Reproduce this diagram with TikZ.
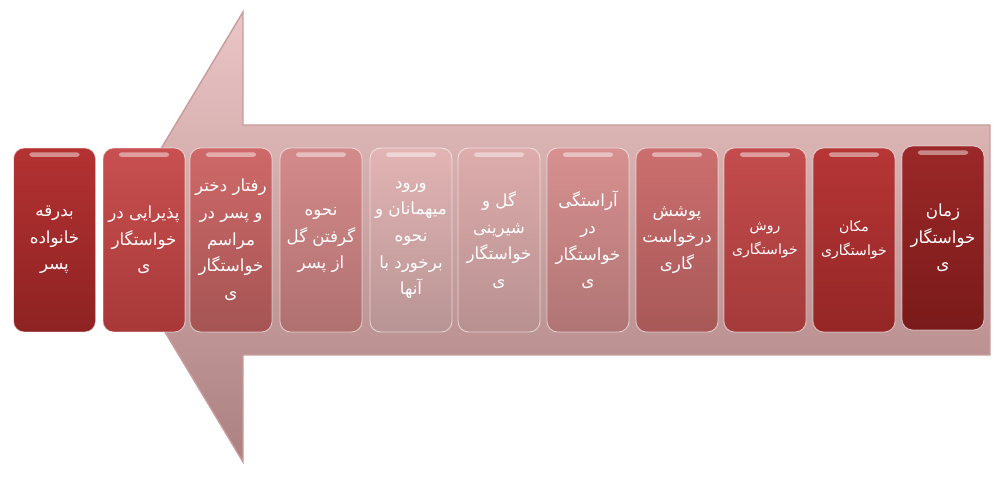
\documentclass[tikz,border=0pt]{standalone}
\usepackage{fontspec}
\newfontfamily\arabicfont[Script=Arabic]{DejaVu Sans}
\TeXXeTstate=1
\newcommand{\rl}[1]{\beginR #1\endR}
\usetikzlibrary{positioning}

\definecolor{arrowtop}{HTML}{EBC6C6}
\definecolor{arrowbot}{HTML}{AC8080}
\definecolor{arrowedge}{HTML}{C89C9C}
\definecolor{c1t}{HTML}{B43232}\definecolor{c1b}{HTML}{8E2222}
\definecolor{c2t}{HTML}{C85050}\definecolor{c2b}{HTML}{A83838}
\definecolor{c3t}{HTML}{CF6868}\definecolor{c3b}{HTML}{A55454}
\definecolor{c4t}{HTML}{D48A8A}\definecolor{c4b}{HTML}{B07070}
\definecolor{c5t}{HTML}{E3B4B4}\definecolor{c5b}{HTML}{B89494}
\definecolor{c6t}{HTML}{DEACAC}\definecolor{c6b}{HTML}{B89090}
\definecolor{c7t}{HTML}{D89090}\definecolor{c7b}{HTML}{B07474}
\definecolor{c8t}{HTML}{CC6E6E}\definecolor{c8b}{HTML}{A85858}
\definecolor{c9t}{HTML}{C44C4C}\definecolor{c9b}{HTML}{A53A3A}
\definecolor{c10t}{HTML}{B73636}\definecolor{c10b}{HTML}{952626}
\definecolor{c11t}{HTML}{9C2828}\definecolor{c11b}{HTML}{7A1A1A}

\begin{document}
\begin{tikzpicture}[x=0.02cm,y=-0.02cm]
  %----- styles
  \tikzset{
    stepbox/.style ={rounded corners=6pt,minimum width=1.64cm,minimum height=3.68cm,
                     inner sep=1pt,align=center,text=white,draw=white,draw opacity=0.6,line width=0.5pt,
                     font=\arabicfont\fontsize{9.5}{15.2}\selectfont,
                     path picture={\fill[white,opacity=0.45,rounded corners=1.5pt]
                       ([xshift=9pt,yshift=-2.5pt]path picture bounding box.north west) rectangle
                       ([xshift=-9pt,yshift=-5pt]path picture bounding box.north east);}},
    smalltxt/.style={font=\arabicfont\fontsize{8}{13.5}\selectfont},
    bigarrow/.style={top color=arrowtop,bottom color=arrowbot,draw=arrowedge,line width=0.8pt}
  }
  \useasboundingbox (0,0) rectangle (1001,479);

  %----- the big arrow pointing left
  \path[bigarrow] (990,125) -- (243,125) -- (243,12) -- (108,237)
                  -- (243,462) -- (243,355) -- (990,355) -- cycle;

  %----- steps, right to left
  \node[stepbox,top color=c1t,bottom color=c1b] (badraqe) at (54.5,240)
    {\rl{بدرقه}\\\rl{خانواده}\\\rl{پسر}};
  \node[stepbox,top color=c2t,bottom color=c2b] (pazirayi) at (144,240)
    {\rl{پذیرایی در}\\\rl{خواستگار}\\\rl{ی}};
  \node[stepbox,top color=c3t,bottom color=c3b] (raftar) at (231,240)
    {\rl{رفتار دختر}\\\rl{و پسر در}\\\rl{مراسم}\\\rl{خواستگار}\\\rl{ی}};
  \node[stepbox,top color=c4t,bottom color=c4b] (gol) at (321,240)
    {\rl{نحوه}\\\rl{گرفتن گل}\\\rl{از پسر}};
  \node[stepbox,top color=c5t,bottom color=c5b] (vorud) at (411,240)
    {\rl{ورود}\\\rl{میهمانان و}\\\rl{نحوه}\\\rl{برخورد با}\\\rl{آنها}};
  \node[stepbox,top color=c6t,bottom color=c6b] (shirini) at (499,240)
    {\rl{گل و}\\\rl{شیرینی}\\\rl{خواستگار}\\\rl{ی}};
  \node[stepbox,top color=c7t,bottom color=c7b] (arastegi) at (588,240)
    {\rl{آراستگی}\\\rl{در}\\\rl{خواستگار}\\\rl{ی}};
  \node[stepbox,top color=c8t,bottom color=c8b] (pushesh) at (677,240)
    {\rl{پوشش}\\\rl{درخواست}\\\rl{گاری}};
  \node[stepbox,smalltxt,top color=c9t,bottom color=c9b] (ravesh) at (765,240)
    {\rl{روش}\\\rl{خواستگاری}};
  \node[stepbox,smalltxt,top color=c10t,bottom color=c10b] (makan) at (854,240)
    {\rl{مکان}\\\rl{خواستگاری}};
  \node[stepbox,top color=c11t,bottom color=c11b] (zaman) at (943,238)
    {\rl{زمان}\\\rl{خواستگار}\\\rl{ی}};
\end{tikzpicture}
\end{document}
